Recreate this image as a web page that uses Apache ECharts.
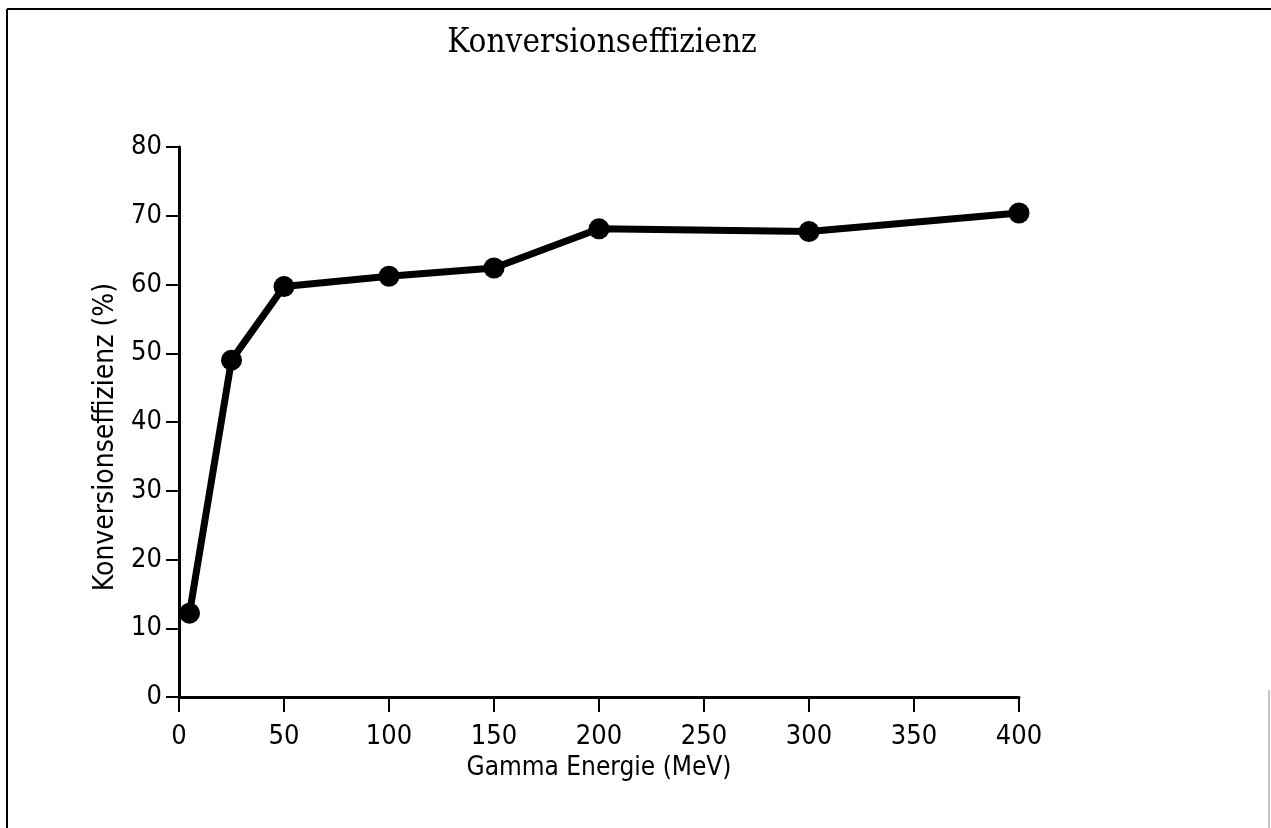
<!DOCTYPE html>
<html lang="de">
<head>
    <meta charset="UTF-8">
    <title>Konversionseffizienz</title>
    <script src="https://cdn.jsdelivr.net/npm/echarts@6.0.0/dist/echarts.min.js"></script>
    <style>
        html, body { margin: 0; padding: 0; background: #fff; }
        #chart { width: 1271px; height: 828px; }
    </style>
</head>
<body>
    <div id="chart"></div>
    <script>
        // Messwerte
        const energies = [5, 25, 50, 100, 150, 200, 300, 400];
        const efficiency = [12.2, 49.0, 59.7, 61.2, 62.4, 68.1, 67.7, 70.4];

        const labelFont = "'DejaVu Sans Condensed', 'Liberation Sans Narrow', sans-serif";

        const chart = echarts.init(document.getElementById('chart'));

        const option = {
            backgroundColor: '#fff',
            animation: false,
            title: {
                text: 'Konversionseffizienz',
                left: 597,
                top: 22,
                textAlign: 'center',
                textStyle: {
                    fontFamily: "'DejaVu Serif Condensed', 'Liberation Serif', serif",
                    fontSize: 33,
                    fontWeight: 'normal',
                    color: '#000'
                }
            },
            graphic: [
                { type: 'line', shape: { x1: 7, y1: 9, x2: 1271, y2: 9 }, style: { stroke: '#000', lineWidth: 2 } },
                { type: 'line', shape: { x1: 7, y1: 9, x2: 7, y2: 828 }, style: { stroke: '#000', lineWidth: 2 } },
                { type: 'line', shape: { x1: 1269, y1: 690, x2: 1269, y2: 828 }, style: { stroke: '#888', lineWidth: 1 } }
            ],
            grid: { left: 179, right: 252, top: 147, bottom: 131 },
            xAxis: {
                type: 'value',
                min: 0,
                max: 400,
                interval: 50,
                name: 'Gamma Energie (MeV)',
                nameLocation: 'middle',
                nameGap: 56,
                nameTextStyle: { fontFamily: labelFont, fontSize: 26, color: '#000' },
                axisLine: { lineStyle: { color: '#000', width: 3 } },
                axisTick: { inside: false, length: 15, lineStyle: { color: '#000', width: 2 } },
                axisLabel: { margin: 26, fontFamily: labelFont, fontSize: 27, color: '#000' },
                splitLine: { show: false }
            },
            yAxis: {
                type: 'value',
                min: 0,
                max: 80,
                interval: 10,
                name: 'Konversionseffizienz (%)',
                nameLocation: 'middle',
                nameGap: 57,
                nameTextStyle: { fontFamily: labelFont, fontSize: 28, color: '#000', padding: [0, 30, 0, 0] },
                axisLine: { show: true, lineStyle: { color: '#000', width: 3 } },
                axisTick: { show: true, length: 13, lineStyle: { color: '#000', width: 2 } },
                axisLabel: { margin: 17, fontFamily: labelFont, fontSize: 27, color: '#000' },
                splitLine: { show: false }
            },
            series: [{
                type: 'line',
                data: energies.map((e, i) => [e, efficiency[i]]),
                symbol: 'circle',
                symbolSize: 21,
                lineStyle: { color: '#000', width: 7 },
                itemStyle: { color: '#000' }
            }]
        };

        chart.setOption(option);
    </script>
</body>
</html>
